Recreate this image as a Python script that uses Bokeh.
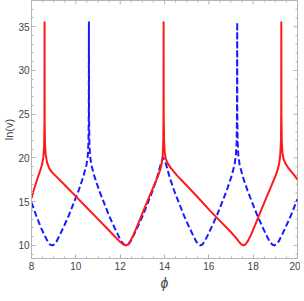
from bokeh.plotting import figure
from bokeh.models import LinearAxis, Range1d, FixedTicker
from bokeh.embed import file_html
from bokeh.resources import INLINE

# red solid curve (phi, ln v)
phi_red = [8.00, 8.10, 8.20, 8.30, 8.40, 8.48, 8.54, 8.57, 8.585, 8.59, 8.595, 8.61, 8.64, 8.70, 8.80,
           8.93, 9.50, 10.00, 10.50, 11.00, 11.50, 11.80, 12.00, 12.12, 12.20, 12.27, 12.35, 12.45,
           12.60, 12.80, 13.08, 13.30, 13.50, 13.70, 13.80, 13.87, 13.92, 13.945, 13.955, 13.96,
           13.965, 13.98, 14.01, 14.06, 14.15, 14.30, 14.56, 15.00, 15.50, 16.04, 16.50, 17.00,
           17.20, 17.35, 17.45, 17.56, 17.65, 17.75, 17.90, 18.10, 18.38, 18.60, 18.80, 19.00,
           19.10, 19.17, 19.22, 19.255, 19.265, 19.27, 19.275, 19.29, 19.32, 19.37, 19.46, 19.60,
           19.86, 20.00]
lnv_red = [15.4, 16.3, 17.1, 17.9, 18.6, 19.3, 20.2, 21.5, 24.0, 35.5, 24.0, 21.6, 20.4, 19.5, 18.8,
           18.35, 16.9, 15.6, 14.3, 13.0, 11.7, 10.9, 10.4, 10.15, 10.05, 10.0, 10.1, 10.45,
           11.2, 12.4, 14.15, 15.5, 16.7, 17.9, 18.6, 19.3, 20.3, 22.0, 25.0, 35.5,
           25.0, 22.0, 20.6, 19.9, 19.35, 18.8, 18.0, 16.85, 15.5, 14.0, 12.8, 11.5,
           10.95, 10.45, 10.15, 10.0, 10.1, 10.45, 11.2, 12.4, 14.15, 15.5, 16.7, 17.9,
           18.6, 19.3, 20.3, 22.0, 25.0, 35.5, 25.0, 22.0, 20.6, 19.9, 19.35, 18.8,
           18.0, 17.5]

# blue dashed curve (phi, ln v)
phi_blue = [8.00, 8.20, 8.43, 8.58, 8.73, 8.83, 8.93, 9.03, 9.13, 9.28, 9.43, 9.68, 9.93, 10.13,
            10.33, 10.48, 10.54, 10.57, 10.585, 10.59, 10.595, 10.61, 10.64, 10.70, 10.85, 11.05,
            11.25, 11.50, 11.75, 11.90, 12.05, 12.17, 12.27, 12.37, 12.47, 12.62, 12.77, 13.02,
            13.27, 13.47, 13.67, 13.82, 13.90, 13.95, 14.00, 14.08, 14.23, 14.43, 14.63, 14.88,
            15.13, 15.28, 15.43, 15.53, 15.61, 15.71, 15.81, 15.96, 16.11, 16.36, 16.61, 16.81,
            17.01, 17.16, 17.22, 17.255, 17.27, 17.28, 17.285, 17.30, 17.33, 17.39, 17.54, 17.74,
            17.94, 18.19, 18.44, 18.59, 18.74, 18.86, 18.95, 19.05, 19.15, 19.30, 19.45, 19.70,
            19.95, 20.00]
lnv_blue = [14.9, 13.5, 12.0, 11.2, 10.45, 10.1, 10.0, 10.1, 10.45, 11.2, 12.0, 13.4, 15.0, 16.3,
            17.8, 19.2, 20.3, 21.8, 25.0, 35.5, 25.0, 21.8, 20.3, 19.2, 17.8, 16.3,
            15.0, 13.4, 12.0, 11.2, 10.45, 10.1, 10.0, 10.1, 10.45, 11.2, 12.0, 13.4,
            15.0, 16.3, 17.8, 19.2, 19.8, 20.0, 19.8, 19.2, 17.8, 16.3, 15.0, 13.4,
            12.0, 11.2, 10.45, 10.1, 10.0, 10.1, 10.45, 11.2, 12.0, 13.4, 15.0, 16.3,
            17.8, 19.2, 20.3, 21.8, 25.0, 35.5, 25.0, 21.8, 20.3, 19.2, 17.8, 16.3,
            15.0, 13.4, 12.0, 11.2, 10.45, 10.1, 10.0, 10.1, 10.45, 11.2, 12.0, 13.4,
            15.0, 15.3]

x_major = [8, 10, 12, 14, 16, 18, 20]
x_minor = [8.5, 9, 9.5, 10.5, 11, 11.5, 12.5, 13, 13.5, 14.5, 15, 15.5, 16.5, 17, 17.5,
           18.5, 19, 19.5]
y_major = [10, 15, 20, 25, 30, 35]
y_minor = [9, 11, 12, 13, 14, 16, 17, 18, 19, 21, 22, 23, 24, 26, 27, 28, 29, 31, 32, 33, 34,
           36, 37]

x_label = "\u03d5"
y_label = "ln(v)"

X0, X1 = 8, 20
Y0, Y1 = 8.5, 38.0

FRAME = "#b4b4b4"
TXT = "#444444"

p = figure(frame_width=266, frame_height=258, output_backend="svg", toolbar_location=None,
           x_range=Range1d(X0, X1), y_range=Range1d(Y0, Y1),
           min_border_left=21, min_border_right=3, min_border_top=0, min_border_bottom=27,
           x_axis_location=None, y_axis_location=None)
p.xgrid.visible = False
p.ygrid.visible = False
p.outline_line_color = FRAME
p.outline_line_width = 1
p.background_fill_color = "white"
p.border_fill_color = "white"


def style(ax):
    ax.axis_line_color = FRAME
    ax.major_tick_line_color = FRAME
    ax.minor_tick_line_color = FRAME
    ax.major_tick_in = 4
    ax.major_tick_out = 0
    ax.minor_tick_in = 2
    ax.minor_tick_out = 0
    ax.major_label_text_font = "Liberation Sans"
    ax.major_label_text_color = TXT
    ax.major_label_text_font_size = "10px"
    ax.axis_label_text_color = TXT
    ax.axis_label_text_font = "Liberation Sans"


xb = LinearAxis(ticker=FixedTicker(ticks=x_major, minor_ticks=x_minor), axis_label=x_label)
style(xb)
xb.major_label_standoff = 3
xb.axis_label_text_font_size = "14px"
xb.axis_label_text_font_style = "italic"
xb.axis_label_standoff = 2
p.add_layout(xb, "below")

yl = LinearAxis(ticker=FixedTicker(ticks=y_major, minor_ticks=y_minor), axis_label=y_label)
style(yl)
yl.axis_label_text_font_size = "11px"
yl.axis_label_text_font_style = "normal"
yl.axis_label_standoff = 0
yl.major_label_standoff = 2
p.add_layout(yl, "left")

# frame ticks on top and right edges (inward), no labels
ppx = 22.1   # approx px per x unit
ppy = 8.75   # approx px per y unit
p.segment(x0=x_major, y0=[Y1] * len(x_major), x1=x_major, y1=[Y1 - 4 / ppy] * len(x_major),
          line_color=FRAME, line_width=1)
p.segment(x0=x_minor, y0=[Y1] * len(x_minor), x1=x_minor, y1=[Y1 - 2 / ppy] * len(x_minor),
          line_color=FRAME, line_width=1)
p.segment(x0=[X1] * len(y_major), y0=y_major, x1=[X1 - 4 / ppx] * len(y_major), y1=y_major,
          line_color=FRAME, line_width=1)
p.segment(x0=[X1] * len(y_minor), y0=y_minor, x1=[X1 - 2 / ppx] * len(y_minor), y1=y_minor,
          line_color=FRAME, line_width=1)

p.line(phi_blue, lnv_blue, line_color="#1a1aff", line_width=2, line_dash="6 3", line_join="round")
p.line(phi_red, lnv_red, line_color="#ff1a1a", line_width=2, line_join="round")

open("out.html", "w").write(file_html(p, INLINE))
